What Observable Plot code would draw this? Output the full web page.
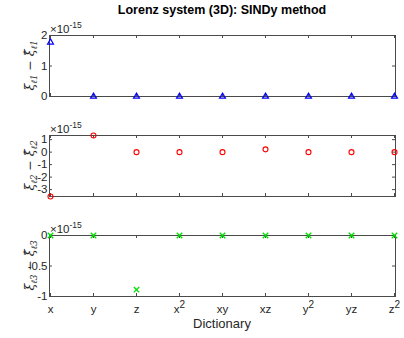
<!DOCTYPE html>
<html><head><meta charset="utf-8">
<script src="https://cdn.jsdelivr.net/npm/d3@7"></script>
<script src="https://cdn.jsdelivr.net/npm/@observablehq/plot@0.6"></script>
<style>
body{margin:0;background:#fff;}
#fig{width:404px;height:338px;font-family:"Liberation Sans",Arial,sans-serif;overflow:hidden;}
#title{height:18px;line-height:20px;text-align:center;font-weight:bold;font-size:12.5px;padding-left:40px;color:#000;white-space:nowrap;}
#fig svg{display:block;overflow:visible;}
</style></head><body><div id="fig"><div id="title">Lorenz system (3D): SINDy method</div></div>
<script>
// Dictionary terms (x-axis categories)
const dictionary = ["x", "y", "z", "x^2", "xy", "xz", "y^2", "yz", "z^2"];
// Exponent shown above each panel (values below are in units of 10^-15)
const exponentLabel = "-15";
// Errors xi - xi_hat for each state equation, in units of 1e-15
const err1 = [1.776, 0, 0, 0, 0, 0, 0, 0, 0];
const err2 = [-3.553, 1.332, 0, 0, 0, 0.222, 0, 0, 0];
const err3 = [0, 0, -0.888, 0, 0, 0, 0, 0, 0];
// Y tick values per panel
const yTicks1 = [0, 1, 2];
const yTicks2 = [-3, -2, -1, 0, 1];
const yTicks3 = [-1, -0.5, 0];
// Y domains per panel
const yDomain1 = [0, 2];
const yDomain2 = [-3.553, 1.332];
const yDomain3 = [-1, 0];
// Panel subscripts
const subs = ["ℓ1", "ℓ2", "ℓ3"];

const W = 404, ML = 49, MR = 9;
const axisColor = "#4a4a4a";

function panel({values, yDomain, yTicks, sub, color, symbol, r, sw, height, mt, mb, showX}) {
  const data = dictionary.map((d, i) => ({term: d, v: values[i]}));
  const innerW = W - ML - MR, innerH = height - mt - mb;
  const marks = [
    Plot.frame({stroke: axisColor}),
    Plot.ruleY(yTicks, {y: d => d, stroke: axisColor, insetRight: innerW - 3}),
    Plot.ruleY(yTicks, {y: d => d, stroke: axisColor, insetLeft: innerW - 3}),
    Plot.ruleX(dictionary, {x: d => d, stroke: axisColor, insetTop: innerH - 3}),
    Plot.ruleX(dictionary, {x: d => d, stroke: axisColor, insetBottom: innerH - 3}),
    Plot.axisY({ticks: yTicks, tickSize: 0, tickPadding: 2, fontSize: 11.5, label: null, tickFormat: d => String(d), fill: "#262626"}),
    showX ? Plot.axisX({tickSize: 0, tickPadding: 8, fontSize: 11.5, label: null, fill: "#262626"}) : Plot.axisX({ticks: [], label: null}),
    Plot.dot(data, {x: "term", y: "v", stroke: color, fill: "none", symbol, r, strokeWidth: sw})
  ];
  const svg = Plot.plot({
    width: W, height, marginLeft: ML, marginRight: MR, marginTop: mt, marginBottom: mb,
    style: {fontFamily: "'Liberation Sans', Arial, sans-serif", background: "transparent", overflow: "visible"},
    x: {type: "point", domain: dictionary, padding: 0},
    y: {domain: yDomain},
    marks
  });
  const s = d3.select(svg);
  // exponent label
  const ex = s.append("text").attr("x", ML + 1).attr("y", mt - 2.5).attr("text-anchor", "start")
    .attr("font-size", 11.5).attr("fill", "#262626");
  ex.append("tspan").text("×10");
  ex.append("tspan").attr("font-size", 8.5).attr("dy", -5).text(exponentLabel);
  // y label
  const cy = mt + innerH / 2;
  const lab = s.append("text").attr("transform", `translate(34,${cy}) rotate(-90)`)
    .attr("text-anchor", "middle").attr("font-size", 12.5).attr("fill", "#262626")
    .attr("font-family", "'DejaVu Serif', serif");
  lab.append("tspan").attr("font-style", "italic").text("ξ");
  lab.append("tspan").attr("font-size", 8.5).attr("dy", 3).attr("font-style", "italic").text(sub);
  lab.append("tspan").attr("dy", -3).text(" − ");
  lab.append("tspan").attr("font-style", "italic").text("ξ̂");
  lab.append("tspan").attr("font-size", 8.5).attr("dy", 3).attr("font-style", "italic").text(sub);
  if (showX) {
    s.selectAll('g[aria-label="x-axis tick label"] text').each(function() {
      const t = d3.select(this);
      const txt = t.text();
      if (txt.includes("^")) {
        const [a, b] = txt.split("^");
        t.text(null);
        t.append("tspan").text(a);
        t.append("tspan").attr("font-size", 10).attr("dy", -5).text(b);
      }
    });
    s.append("text").attr("x", ML + innerW / 2).attr("y", height - 10.5).attr("text-anchor", "middle")
      .attr("font-size", 13).attr("fill", "#262626").text("Dictionary");
  }
  return svg;
}

const fig = document.getElementById("fig");
fig.appendChild(panel({values: err1, yDomain: yDomain1, yTicks: yTicks1, sub: subs[0], color: "#0000ff", symbol: "triangle", r: 2.2, sw: 1.2, height: 98, mt: 17, mb: 20, showX: false}));
fig.appendChild(panel({values: err2, yDomain: yDomain2, yTicks: yTicks2, sub: subs[1], color: "#ff0000", symbol: "circle", r: 2.5, sw: 1.1, height: 100, mt: 19, mb: 20, showX: false}));
fig.appendChild(panel({values: err3, yDomain: yDomain3, yTicks: yTicks3, sub: subs[2], color: "#00dd00", symbol: "times", r: 2.6, sw: 1.3, height: 122, mt: 19, mb: 42, showX: true}));
</script></body></html>
